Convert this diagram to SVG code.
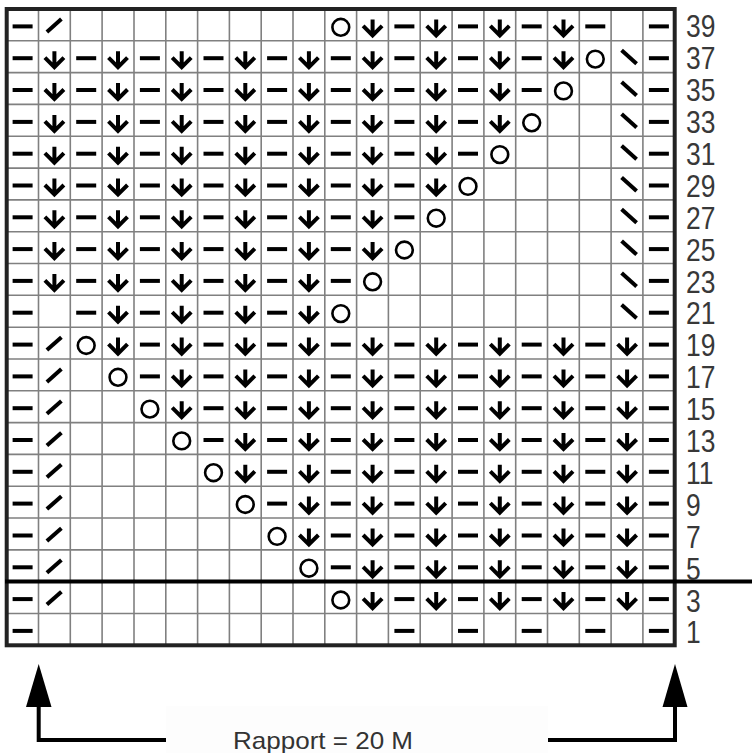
<svg xmlns="http://www.w3.org/2000/svg" xmlns:xlink="http://www.w3.org/1999/xlink" width="752" height="753" viewBox="0 0 752 753">
<style>
.grid{stroke:#808080;stroke-width:1.6;fill:none}
.border{stroke:#222;stroke-width:4;fill:none}
.sym{stroke:#000;fill:none;stroke-width:4}
.lbl{font-family:"Liberation Sans",Arial,sans-serif;font-size:31.5px;fill:#383838}
.cap{font-family:"Liberation Sans",Arial,sans-serif;font-size:24px;fill:#333}
</style>
<defs>
<g id="D"><line class="sym" x1="-10" y1="1.5" x2="10" y2="1.5"/></g>
<g id="A"><path class="sym" d="M0 -5.5V9.5M-9.5 1L0 10.5L9.5 1" stroke-linejoin="miter"/></g>
<g id="O"><circle cx="0" cy="2.4" r="8.4" fill="none" stroke="#000" stroke-width="2.6"/></g>
<g id="S"><line class="sym" stroke-width="3.6" x1="-7.5" y1="7" x2="7" y2="-5.8"/></g>
<g id="B"><line class="sym" stroke-width="3.6" x1="-5.5" y1="-6.5" x2="9.5" y2="7"/></g>
</defs>
<rect width="752" height="753" fill="#fff"/>
<rect x="166" y="706" width="382" height="47" fill="#fdfdfd"/>
<g id="grid">
<path class="grid" d="M38.5 9V645.3M70.3 9V645.3M102.1 9V645.3M134 9V645.3M165.8 9V645.3M197.6 9V645.3M229.4 9V645.3M261.2 9V645.3M293 9V645.3M324.8 9V645.3M356.6 9V645.3M388.4 9V645.3M420.2 9V645.3M452.1 9V645.3M483.9 9V645.3M515.7 9V645.3M547.5 9V645.3M579.3 9V645.3M611.1 9V645.3M642.9 9V645.3"/>
<path class="grid" d="M6.7 40.8H674.7M6.7 72.6H674.7M6.7 104.4H674.7M6.7 136.3H674.7M6.7 168.1H674.7M6.7 199.9H674.7M6.7 231.7H674.7M6.7 263.5H674.7M6.7 295.3H674.7M6.7 327.2H674.7M6.7 359H674.7M6.7 390.8H674.7M6.7 422.6H674.7M6.7 454.4H674.7M6.7 486.2H674.7M6.7 518H674.7M6.7 549.9H674.7M6.7 613.5H674.7"/>
<rect class="border" x="6.7" y="9" width="668" height="636.3"/>
<line x1="5" y1="581.5" x2="752" y2="581.5" stroke="#000" stroke-width="3.8"/>
</g>
<g id="r39" transform="translate(0 24.9)">
<use href="#D" x="22.6"/><use href="#S" x="54.4"/><use href="#O" x="340.8"/><use href="#A" x="372.6"/><use href="#D" x="404.4"/><use href="#A" x="436.2"/><use href="#D" x="468"/><use href="#A" x="499.8"/><use href="#D" x="531.7"/><use href="#A" x="563.5"/><use href="#D" x="595.3"/><use href="#D" x="658.9"/>
</g>
<g id="r37" transform="translate(0 56.7)">
<use href="#D" x="22.6"/><use href="#A" x="54.4"/><use href="#D" x="86.2"/><use href="#A" x="118"/><use href="#D" x="149.9"/><use href="#A" x="181.7"/><use href="#D" x="213.5"/><use href="#A" x="245.3"/><use href="#D" x="277.1"/><use href="#A" x="308.9"/><use href="#D" x="340.8"/><use href="#A" x="372.6"/><use href="#D" x="404.4"/><use href="#A" x="436.2"/><use href="#D" x="468"/><use href="#A" x="499.8"/><use href="#D" x="531.7"/><use href="#A" x="563.5"/><use href="#O" x="595.3"/><use href="#B" x="627.1"/><use href="#D" x="658.9"/>
</g>
<g id="r35" transform="translate(0 88.5)">
<use href="#D" x="22.6"/><use href="#A" x="54.4"/><use href="#D" x="86.2"/><use href="#A" x="118"/><use href="#D" x="149.9"/><use href="#A" x="181.7"/><use href="#D" x="213.5"/><use href="#A" x="245.3"/><use href="#D" x="277.1"/><use href="#A" x="308.9"/><use href="#D" x="340.8"/><use href="#A" x="372.6"/><use href="#D" x="404.4"/><use href="#A" x="436.2"/><use href="#D" x="468"/><use href="#A" x="499.8"/><use href="#D" x="531.7"/><use href="#O" x="563.5"/><use href="#B" x="627.1"/><use href="#D" x="658.9"/>
</g>
<g id="r33" transform="translate(0 120.4)">
<use href="#D" x="22.6"/><use href="#A" x="54.4"/><use href="#D" x="86.2"/><use href="#A" x="118"/><use href="#D" x="149.9"/><use href="#A" x="181.7"/><use href="#D" x="213.5"/><use href="#A" x="245.3"/><use href="#D" x="277.1"/><use href="#A" x="308.9"/><use href="#D" x="340.8"/><use href="#A" x="372.6"/><use href="#D" x="404.4"/><use href="#A" x="436.2"/><use href="#D" x="468"/><use href="#A" x="499.8"/><use href="#O" x="531.7"/><use href="#B" x="627.1"/><use href="#D" x="658.9"/>
</g>
<g id="r31" transform="translate(0 152.2)">
<use href="#D" x="22.6"/><use href="#A" x="54.4"/><use href="#D" x="86.2"/><use href="#A" x="118"/><use href="#D" x="149.9"/><use href="#A" x="181.7"/><use href="#D" x="213.5"/><use href="#A" x="245.3"/><use href="#D" x="277.1"/><use href="#A" x="308.9"/><use href="#D" x="340.8"/><use href="#A" x="372.6"/><use href="#D" x="404.4"/><use href="#A" x="436.2"/><use href="#D" x="468"/><use href="#O" x="499.8"/><use href="#B" x="627.1"/><use href="#D" x="658.9"/>
</g>
<g id="r29" transform="translate(0 184)">
<use href="#D" x="22.6"/><use href="#A" x="54.4"/><use href="#D" x="86.2"/><use href="#A" x="118"/><use href="#D" x="149.9"/><use href="#A" x="181.7"/><use href="#D" x="213.5"/><use href="#A" x="245.3"/><use href="#D" x="277.1"/><use href="#A" x="308.9"/><use href="#D" x="340.8"/><use href="#A" x="372.6"/><use href="#D" x="404.4"/><use href="#A" x="436.2"/><use href="#O" x="468"/><use href="#B" x="627.1"/><use href="#D" x="658.9"/>
</g>
<g id="r27" transform="translate(0 215.8)">
<use href="#D" x="22.6"/><use href="#A" x="54.4"/><use href="#D" x="86.2"/><use href="#A" x="118"/><use href="#D" x="149.9"/><use href="#A" x="181.7"/><use href="#D" x="213.5"/><use href="#A" x="245.3"/><use href="#D" x="277.1"/><use href="#A" x="308.9"/><use href="#D" x="340.8"/><use href="#A" x="372.6"/><use href="#D" x="404.4"/><use href="#O" x="436.2"/><use href="#B" x="627.1"/><use href="#D" x="658.9"/>
</g>
<g id="r25" transform="translate(0 247.6)">
<use href="#D" x="22.6"/><use href="#A" x="54.4"/><use href="#D" x="86.2"/><use href="#A" x="118"/><use href="#D" x="149.9"/><use href="#A" x="181.7"/><use href="#D" x="213.5"/><use href="#A" x="245.3"/><use href="#D" x="277.1"/><use href="#A" x="308.9"/><use href="#D" x="340.8"/><use href="#A" x="372.6"/><use href="#O" x="404.4"/><use href="#B" x="627.1"/><use href="#D" x="658.9"/>
</g>
<g id="r23" transform="translate(0 279.4)">
<use href="#D" x="22.6"/><use href="#A" x="54.4"/><use href="#D" x="86.2"/><use href="#A" x="118"/><use href="#D" x="149.9"/><use href="#A" x="181.7"/><use href="#D" x="213.5"/><use href="#A" x="245.3"/><use href="#D" x="277.1"/><use href="#A" x="308.9"/><use href="#D" x="340.8"/><use href="#O" x="372.6"/><use href="#B" x="627.1"/><use href="#D" x="658.9"/>
</g>
<g id="r21" transform="translate(0 311.2)">
<use href="#D" x="22.6"/><use href="#D" x="86.2"/><use href="#A" x="118"/><use href="#D" x="149.9"/><use href="#A" x="181.7"/><use href="#D" x="213.5"/><use href="#A" x="245.3"/><use href="#D" x="277.1"/><use href="#A" x="308.9"/><use href="#O" x="340.8"/><use href="#B" x="627.1"/><use href="#D" x="658.9"/>
</g>
<g id="r19" transform="translate(0 343.1)">
<use href="#D" x="22.6"/><use href="#S" x="54.4"/><use href="#O" x="86.2"/><use href="#A" x="118"/><use href="#D" x="149.9"/><use href="#A" x="181.7"/><use href="#D" x="213.5"/><use href="#A" x="245.3"/><use href="#D" x="277.1"/><use href="#A" x="308.9"/><use href="#D" x="340.8"/><use href="#A" x="372.6"/><use href="#D" x="404.4"/><use href="#A" x="436.2"/><use href="#D" x="468"/><use href="#A" x="499.8"/><use href="#D" x="531.7"/><use href="#A" x="563.5"/><use href="#D" x="595.3"/><use href="#A" x="627.1"/><use href="#D" x="658.9"/>
</g>
<g id="r17" transform="translate(0 374.9)">
<use href="#D" x="22.6"/><use href="#S" x="54.4"/><use href="#O" x="118"/><use href="#D" x="149.9"/><use href="#A" x="181.7"/><use href="#D" x="213.5"/><use href="#A" x="245.3"/><use href="#D" x="277.1"/><use href="#A" x="308.9"/><use href="#D" x="340.8"/><use href="#A" x="372.6"/><use href="#D" x="404.4"/><use href="#A" x="436.2"/><use href="#D" x="468"/><use href="#A" x="499.8"/><use href="#D" x="531.7"/><use href="#A" x="563.5"/><use href="#D" x="595.3"/><use href="#A" x="627.1"/><use href="#D" x="658.9"/>
</g>
<g id="r15" transform="translate(0 406.7)">
<use href="#D" x="22.6"/><use href="#S" x="54.4"/><use href="#O" x="149.9"/><use href="#A" x="181.7"/><use href="#D" x="213.5"/><use href="#A" x="245.3"/><use href="#D" x="277.1"/><use href="#A" x="308.9"/><use href="#D" x="340.8"/><use href="#A" x="372.6"/><use href="#D" x="404.4"/><use href="#A" x="436.2"/><use href="#D" x="468"/><use href="#A" x="499.8"/><use href="#D" x="531.7"/><use href="#A" x="563.5"/><use href="#D" x="595.3"/><use href="#A" x="627.1"/><use href="#D" x="658.9"/>
</g>
<g id="r13" transform="translate(0 438.5)">
<use href="#D" x="22.6"/><use href="#S" x="54.4"/><use href="#O" x="181.7"/><use href="#D" x="213.5"/><use href="#A" x="245.3"/><use href="#D" x="277.1"/><use href="#A" x="308.9"/><use href="#D" x="340.8"/><use href="#A" x="372.6"/><use href="#D" x="404.4"/><use href="#A" x="436.2"/><use href="#D" x="468"/><use href="#A" x="499.8"/><use href="#D" x="531.7"/><use href="#A" x="563.5"/><use href="#D" x="595.3"/><use href="#A" x="627.1"/><use href="#D" x="658.9"/>
</g>
<g id="r11" transform="translate(0 470.3)">
<use href="#D" x="22.6"/><use href="#S" x="54.4"/><use href="#O" x="213.5"/><use href="#A" x="245.3"/><use href="#D" x="277.1"/><use href="#A" x="308.9"/><use href="#D" x="340.8"/><use href="#A" x="372.6"/><use href="#D" x="404.4"/><use href="#A" x="436.2"/><use href="#D" x="468"/><use href="#A" x="499.8"/><use href="#D" x="531.7"/><use href="#A" x="563.5"/><use href="#D" x="595.3"/><use href="#A" x="627.1"/><use href="#D" x="658.9"/>
</g>
<g id="r9" transform="translate(0 502.1)">
<use href="#D" x="22.6"/><use href="#S" x="54.4"/><use href="#O" x="245.3"/><use href="#D" x="277.1"/><use href="#A" x="308.9"/><use href="#D" x="340.8"/><use href="#A" x="372.6"/><use href="#D" x="404.4"/><use href="#A" x="436.2"/><use href="#D" x="468"/><use href="#A" x="499.8"/><use href="#D" x="531.7"/><use href="#A" x="563.5"/><use href="#D" x="595.3"/><use href="#A" x="627.1"/><use href="#D" x="658.9"/>
</g>
<g id="r7" transform="translate(0 534)">
<use href="#D" x="22.6"/><use href="#S" x="54.4"/><use href="#O" x="277.1"/><use href="#A" x="308.9"/><use href="#D" x="340.8"/><use href="#A" x="372.6"/><use href="#D" x="404.4"/><use href="#A" x="436.2"/><use href="#D" x="468"/><use href="#A" x="499.8"/><use href="#D" x="531.7"/><use href="#A" x="563.5"/><use href="#D" x="595.3"/><use href="#A" x="627.1"/><use href="#D" x="658.9"/>
</g>
<g id="r5" transform="translate(0 565.8)">
<use href="#D" x="22.6"/><use href="#S" x="54.4"/><use href="#O" x="308.9"/><use href="#D" x="340.8"/><use href="#A" x="372.6"/><use href="#D" x="404.4"/><use href="#A" x="436.2"/><use href="#D" x="468"/><use href="#A" x="499.8"/><use href="#D" x="531.7"/><use href="#A" x="563.5"/><use href="#D" x="595.3"/><use href="#A" x="627.1"/><use href="#D" x="658.9"/>
</g>
<g id="r3" transform="translate(0 597.6)">
<use href="#D" x="22.6"/><use href="#S" x="54.4"/><use href="#O" x="340.8"/><use href="#A" x="372.6"/><use href="#D" x="404.4"/><use href="#A" x="436.2"/><use href="#D" x="468"/><use href="#A" x="499.8"/><use href="#D" x="531.7"/><use href="#A" x="563.5"/><use href="#D" x="595.3"/><use href="#A" x="627.1"/><use href="#D" x="658.9"/>
</g>
<g id="r1" transform="translate(0 629.4)">
<use href="#D" x="22.6"/><use href="#D" x="404.4"/><use href="#D" x="468"/><use href="#D" x="531.7"/><use href="#D" x="595.3"/><use href="#D" x="658.9"/>
</g>
<g id="labels" class="lbl">
<text transform="translate(686 37.3) scale(0.84 1)">39</text>
<text transform="translate(686 69.2) scale(0.84 1)">37</text>
<text transform="translate(686 101.1) scale(0.84 1)">35</text>
<text transform="translate(686 133) scale(0.84 1)">33</text>
<text transform="translate(686 164.9) scale(0.84 1)">31</text>
<text transform="translate(686 196.8) scale(0.84 1)">29</text>
<text transform="translate(686 228.7) scale(0.84 1)">27</text>
<text transform="translate(686 260.6) scale(0.84 1)">25</text>
<text transform="translate(686 292.5) scale(0.84 1)">23</text>
<text transform="translate(686 324.4) scale(0.84 1)">21</text>
<text transform="translate(686 356.3) scale(0.84 1)">19</text>
<text transform="translate(686 388.2) scale(0.84 1)">17</text>
<text transform="translate(686 420.1) scale(0.84 1)">15</text>
<text transform="translate(686 452) scale(0.84 1)">13</text>
<text transform="translate(686 483.9) scale(0.84 1)">11</text>
<text transform="translate(686 515.8) scale(0.84 1)">9</text>
<text transform="translate(686 547.7) scale(0.84 1)">7</text>
<text transform="translate(686 579.6) scale(0.84 1)">5</text>
<text transform="translate(686 611.5) scale(0.84 1)">3</text>
<text transform="translate(686 643.4) scale(0.84 1)">1</text>
</g>
<g id="connectors">
<path d="M166 740H38.7V705" fill="none" stroke="#000" stroke-width="4"/>
<polygon points="38.7,664 26,707 51.5,707" fill="#000"/>
<path d="M548 740H675V705" fill="none" stroke="#000" stroke-width="4"/>
<polygon points="675,664 662.5,707 687.5,707" fill="#000"/>
</g>
<text class="cap" x="233" y="749" textLength="180" lengthAdjust="spacingAndGlyphs">Rapport = 20 M</text>
</svg>
